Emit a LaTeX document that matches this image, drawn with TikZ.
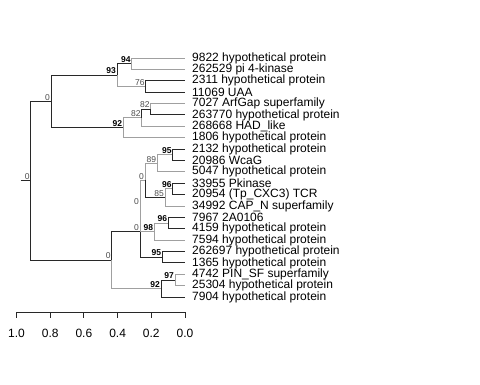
\documentclass[tikz,border=0pt]{standalone}
\usepackage{fontspec}
\setmainfont{Liberation Sans}
\usepackage{tikz}
\definecolor{branchdark}{RGB}{40,40,40}
\definecolor{branchlight}{RGB}{160,160,160}
\tikzset{
  dk/.style={draw=branchdark,line width=1pt},
  lt/.style={draw=branchlight,line width=1pt},
  leaflab/.style={anchor=west,inner sep=0pt,xshift=7pt,font=\fontsize{12}{12}\selectfont},
  bs/.style={anchor=south east,inner sep=1pt,text=black!70,font=\fontsize{8.5}{8.5}\selectfont},
  bsb/.style={bs,text=black,font=\fontsize{8.5}{8.5}\selectfont\bfseries}
}
\begin{document}
\begin{tikzpicture}[x=1pt,y=-1pt]
\useasboundingbox (0,0) rectangle (480,384);

% tips
\coordinate (t9822) at (185,58.0);
\coordinate (t262529) at (185,69.4);
\coordinate (t2311) at (185,80.8);
\coordinate (t11069) at (185,92.1);
\coordinate (t7027) at (185,103.5);
\coordinate (t263770) at (185,114.9);
\coordinate (t268668) at (185,126.3);
\coordinate (t1806) at (185,137.7);
\coordinate (t2132) at (185,149.0);
\coordinate (t20986) at (185,160.4);
\coordinate (t5047) at (185,171.8);
\coordinate (t33955) at (185,183.2);
\coordinate (t20954) at (185,194.6);
\coordinate (t34992) at (185,206.0);
\coordinate (t7967) at (185,217.3);
\coordinate (t4159) at (185,228.7);
\coordinate (t7594) at (185,240.1);
\coordinate (t262697) at (185,251.5);
\coordinate (t1365) at (185,262.9);
\coordinate (t4742) at (185,274.3);
\coordinate (t25304) at (185,285.6);
\coordinate (t7904) at (185,297.0);

% inner nodes
\coordinate (stub) at (20.7,180.7);
\coordinate (root) at (30.7,180.7);
\coordinate (nA) at (51,101.4);
\coordinate (n93) at (117,75.1);
\coordinate (n94) at (131.7,63.7);
\coordinate (n76) at (145.7,86.5);
\coordinate (n92) at (123.3,127.7);
\coordinate (n82b) at (141.7,117.8);
\coordinate (n82a) at (150.7,109.2);
\coordinate (nB) at (111.7,260.0);
\coordinate (nY) at (140,231.6);
\coordinate (nX) at (140,206.0);
\coordinate (nC) at (145,180.4);
\coordinate (n89) at (157.3,163.3);
\coordinate (n95a) at (172.7,154.7);
\coordinate (n85) at (165,197.5);
\coordinate (n96a) at (172.7,188.9);
\coordinate (n98) at (154.3,231.6);
\coordinate (n96b) at (168.3,223.0);
\coordinate (n95b) at (162.3,257.2);
\coordinate (n92b) at (161,288.5);
\coordinate (n97) at (175,280.0);

% branches
\draw[dk] (stub) -- (root);
\draw[dk] (root) |- (nA);
\draw[dk] (root) |- (nB);
\draw[dk] (nA) |- (n93);
\draw[dk] (nA) |- (n92);
\draw[dk] (n93) |- (n94);
\draw[lt] (n93) |- (n76);
\draw[lt] (n94) |- (t9822);
\draw[lt] (n94) |- (t262529);
\draw[dk] (n76) |- (t2311);
\draw[dk] (n76) |- (t11069);
\draw[lt] (n92) |- (n82b);
\draw[lt] (n92) |- (t1806);
\draw[dk] (n82b) |- (n82a);
\draw[lt] (n82b) |- (t268668);
\draw[lt] (n82a) |- (t7027);
\draw[dk] (n82a) |- (t263770);
\draw[dk] (nB) |- (nY);
\draw[lt] (nB) |- (n92b);
\draw[dk] (nY) |- (nX);
\draw[dk] (nY) |- (n95b);
\draw[lt] (nX) |- (nC);
\draw[lt] (nX) |- (n98);
\draw[lt] (nC) |- (n89);
\draw[dk] (nC) |- (n85);
\draw[lt] (n89) |- (n95a);
\draw[lt] (n89) |- (t5047);
\draw[dk] (n95a) |- (t2132);
\draw[dk] (n95a) |- (t20986);
\draw[lt] (n85) |- (n96a);
\draw[lt] (n85) |- (t34992);
\draw[dk] (n96a) |- (t33955);
\draw[dk] (n96a) |- (t20954);
\draw[lt] (n98) |- (n96b);
\draw[lt] (n98) |- (t7594);
\draw[dk] (n96b) |- (t7967);
\draw[dk] (n96b) |- (t4159);
\draw[dk] (n95b) |- (t262697);
\draw[dk] (n95b) |- (t1365);
\draw[dk] (n92b) |- (n97);
\draw[dk] (n92b) |- (t7904);
\draw[lt] (n97) |- (t4742);
\draw[lt] (n97) |- (t25304);

% support values
\node[bs] (sroot) at (root) {0};
\node[bs] (sA) at (nA) {0};
\node[bsb] (s93) at (n93) {93};
\node[bsb] (s94) at (n94) {94};
\node[bs] (s76) at (n76) {76};
\node[bsb] (s92) at (n92) {92};
\node[bs] (s82b) at (n82b) {82};
\node[bs] (s82a) at (n82a) {82};
\node[bs] (sB) at (nB) {0};
\node[bs] (sY) at (nY) {0};
\node[bs] (sX) at (nX) {0};
\node[bs] (sC) at (nC) {0};
\node[bs] (s89) at (n89) {89};
\node[bsb] (s95a) at (n95a) {95};
\node[bs] (s85) at (n85) {85};
\node[bsb] (s96a) at (n96a) {96};
\node[bsb] (s98) at (n98) {98};
\node[bsb] (s96b) at (n96b) {96};
\node[bsb] (s95b) at (n95b) {95};
\node[bsb] (s92b) at (n92b) {92};
\node[bsb] (s97) at (n97) {97};

% tip labels
\node[leaflab] (l9822) at (t9822) {9822 hypothetical protein};
\node[leaflab] (l262529) at (t262529) {262529 pi 4-kinase};
\node[leaflab] (l2311) at (t2311) {2311 hypothetical protein};
\node[leaflab] (l11069) at (t11069) {11069 UAA};
\node[leaflab] (l7027) at (t7027) {7027 ArfGap superfamily};
\node[leaflab] (l263770) at (t263770) {263770 hypothetical protein};
\node[leaflab] (l268668) at (t268668) {268668 HAD\_like};
\node[leaflab] (l1806) at (t1806) {1806 hypothetical protein};
\node[leaflab] (l2132) at (t2132) {2132 hypothetical protein};
\node[leaflab] (l20986) at (t20986) {20986 WcaG};
\node[leaflab] (l5047) at (t5047) {5047 hypothetical protein};
\node[leaflab] (l33955) at (t33955) {33955 Pkinase};
\node[leaflab] (l20954) at (t20954) {20954 (Tp\_CXC3) TCR};
\node[leaflab] (l34992) at (t34992) {34992 CAP\_N superfamily};
\node[leaflab] (l7967) at (t7967) {7967 2A0106};
\node[leaflab] (l4159) at (t4159) {4159 hypothetical protein};
\node[leaflab] (l7594) at (t7594) {7594 hypothetical protein};
\node[leaflab] (l262697) at (t262697) {262697 hypothetical protein};
\node[leaflab] (l1365) at (t1365) {1365 hypothetical protein};
\node[leaflab] (l4742) at (t4742) {4742 PIN\_SF superfamily};
\node[leaflab] (l25304) at (t25304) {25304 hypothetical protein};
\node[leaflab] (l7904) at (t7904) {7904 hypothetical protein};

% scale axis
\draw[branchdark,line width=0.8pt] (16.5,312) -- (185,312);
\foreach \d/\lab in {0/0.0,0.2/0.2,0.4/0.4,0.6/0.6,0.8/0.8,1/1.0}{
  \draw[branchdark,line width=0.8pt] ({185-168.5*\d},312) -- ({185-168.5*\d},318);
  \node[font=\fontsize{12}{12}\selectfont] at ({185-168.5*\d},333) {\lab};
}

\end{tikzpicture}
\end{document}
